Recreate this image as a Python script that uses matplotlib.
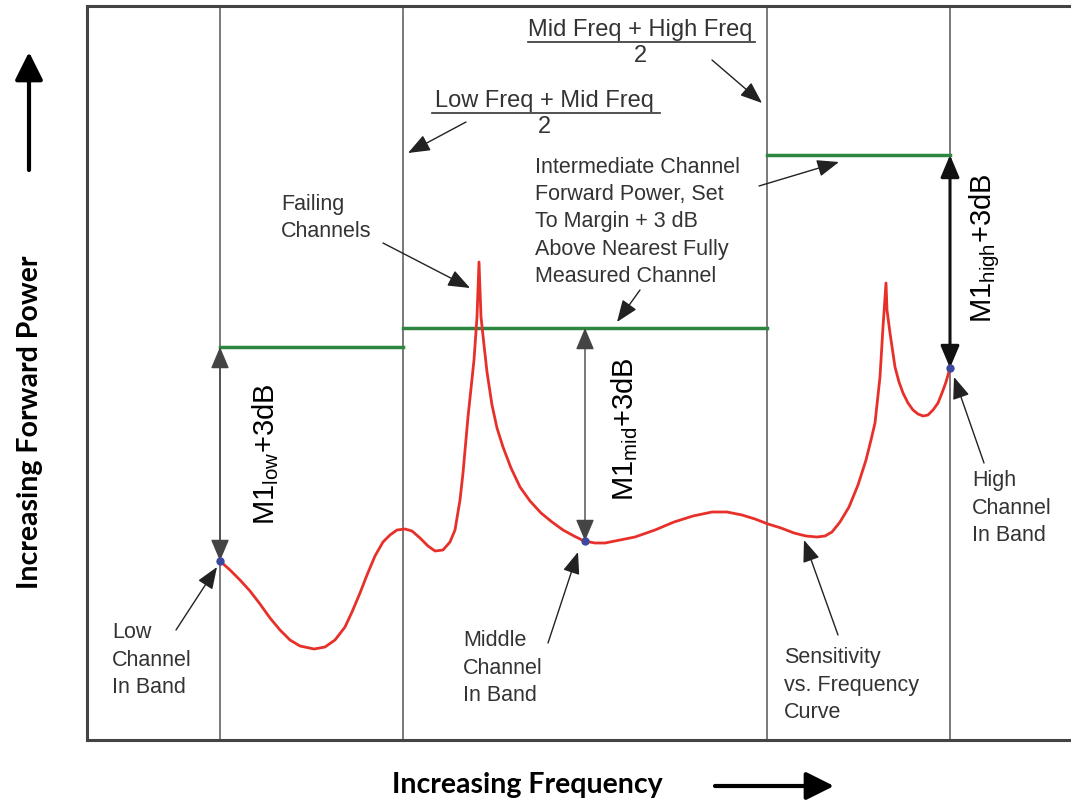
import matplotlib
matplotlib.use('Agg')
import matplotlib.pyplot as plt
from matplotlib.patches import FancyArrowPatch

plt.rcParams['font.family'] = ['Liberation Sans', 'DejaVu Sans']
plt.rcParams['mathtext.fontset'] = 'custom'
plt.rcParams['mathtext.rm'] = 'Liberation Sans'

# sensitivity vs frequency curve (arbitrary units)
freq = [133, 143, 153, 163, 173, 183, 193, 203, 213, 227,
        238, 248, 258, 265, 273, 280, 288, 296, 303, 310,
        318, 325, 333, 341, 348, 356, 363, 368, 373, 376,
        381, 387, 390, 392, 394, 397, 400, 405, 410, 416,
        424, 433, 443, 454, 465, 476, 487, 497, 508, 518,
        533, 548, 568, 587, 606, 625, 640, 655, 668, 681,
        694, 707, 719, 730, 738, 745, 753, 762, 771, 779,
        784, 788, 793, 796, 799, 800, 803, 808, 812, 816,
        821, 826, 831, 836, 841, 846, 851, 855, 859, 863]
power = [179, 170, 160, 149, 136, 122, 110, 100, 94, 91,
         93, 100, 113, 128, 147, 165, 184, 198, 205, 210,
         211, 209, 202, 194, 189, 190, 198, 210, 240, 267,
         323, 380, 423, 478, 423, 395, 368, 335, 312, 293,
         272, 253, 239, 227, 218, 210, 204, 199, 197, 197,
         200, 203, 210, 218, 224, 228, 228, 225, 221, 216,
         212, 207, 204, 203, 204, 208, 218, 233, 255, 280,
         300, 317, 363, 413, 457, 430, 407, 373, 358, 347,
         337, 330, 326, 324, 325, 330, 337, 347, 358, 372]

# measured channels (low, mid, high)
chan_freq = [133, 498, 863]
chan_power = [179, 199, 372]
chan_names = ['low', 'mid', 'high']

# band boundaries and the forward power level set in each band
band_edges = [133, 316, 680, 863]
band_level = [393, 412, 585]

fig = plt.figure(figsize=(10.71, 8.01), dpi=100)
ax = fig.add_axes([87 / 1071, 61 / 801, 984 / 1071, 734 / 801])
ax.set_xlim(0, 984)
ax.set_ylim(0, 734)
ax.set_xticks([])
ax.set_yticks([])
for s in ['left', 'top', 'bottom']:
    ax.spines[s].set_linewidth(2.2)
    ax.spines[s].set_color('#444444')
ax.spines['right'].set_visible(False)

for e in band_edges:
    ax.axvline(e, color='#555555', lw=1.1, zorder=1)

for i in range(3):
    ax.plot([band_edges[i], band_edges[i + 1]], [band_level[i]] * 2,
            color='#2e8540', lw=2.5, zorder=2)

ax.plot(freq, power, color='#e8302a', lw=2, zorder=3)

# margin arrows (channel point -> band level)
for i in range(3):
    thick = i == 2
    ax.annotate('', xy=(chan_freq[i], band_level[i]), xytext=(chan_freq[i], chan_power[i]),
                arrowprops=dict(arrowstyle='<|-|>,head_length=0.9,head_width=0.38',
                                mutation_scale=15, color='#111111' if thick else '#444444',
                                lw=2.2 if thick else 1.0, shrinkA=0, shrinkB=0),
                zorder=4)

ax.plot(chan_freq, chan_power, 'o', color='#3b4a9e', ms=5, zorder=5)

lbl_pos = [(179, 286), (538, 311), (898, 492)]
for (x, y), n in zip(lbl_pos, chan_names):
    ax.text(x, y, r'M1$_{\mathregular{' + n + r'}}$+3dB', rotation=90,
            ha='center', va='center', fontsize=21, color='black')

tc = '#333333'
fs = 15.5
notes = [
    ('Failing\nChannels', 194, 522, (296, 497), (383, 452)),
    ('Intermediate Channel\nForward Power, Set\nTo Margin + 3 dB\nAbove Nearest Fully\nMeasured Channel',
     448, 518, (553, 450), (530, 418)),
    ('Low\nChannel\nIn Band', 25, 80, (89, 110), (130, 173)),
    ('Middle\nChannel\nIn Band', 376, 72, (461, 97), (491, 188)),
    ('Sensitivity\nvs. Frequency\nCurve', 697, 55, (751, 105), (717, 200)),
    ('High\nChannel\nIn Band', 885, 232, (897, 277), (867, 363)),
]
arrow_kw = dict(arrowstyle='-|>,head_length=0.9,head_width=0.35', mutation_scale=15,
                color='#222222', lw=1.0, shrinkA=0, shrinkB=0)
for txt, x, y, a0, a1 in notes:
    ax.text(x, y, txt, ha='left', va='center', fontsize=fs, color=tc, linespacing=1.4)
    ax.annotate('', xy=a1, xytext=a0, arrowprops=arrow_kw)

# the extra arrow from the intermediate note to the high band level
ax.annotate('', xy=(752, 578), xytext=(672, 554), arrowprops=arrow_kw)

# fraction labels for band edges
fracs = [('Mid Freq + High Freq', 553, 710, (441, 668), (625, 680), (675, 637)),
         ('Low Freq + Mid Freq', 457, 639, (345, 573), (379, 618), (321, 587))]
for num, xc, ytop, (x0, x1), a0, a1 in fracs:
    ax.text(xc, ytop, num, ha='center', va='center', fontsize=17, color=tc)
    ax.plot([x0, x1], [ytop - 12, ytop - 12], color=tc, lw=1.2, clip_on=False)
    ax.text(xc, ytop - 26, '2', ha='center', va='center', fontsize=17, color=tc)
    ax.annotate('', xy=a1, xytext=a0, arrowprops=arrow_kw)

# axis titles with arrows
fig.text(30 / 1071, 379 / 801, 'Increasing Forward Power', rotation=90, ha='center',
         va='center', fontsize=20.5, fontweight='bold', family=['Lato', 'DejaVu Sans'])
fig.text(527 / 1071, 16 / 801, 'Increasing Frequency', ha='center', va='center',
         fontsize=20.5, fontweight='bold', family=['Lato', 'DejaVu Sans'])
big_arrow = dict(arrowstyle='-|>,head_length=1.0,head_width=0.5', mutation_scale=17,
                 color='black', lw=3, shrinkA=0, shrinkB=0)
fig.add_artist(FancyArrowPatch((29, 631), (29, 749), transform=None, **big_arrow))
fig.add_artist(FancyArrowPatch((715, 15), (834, 15), transform=None, **big_arrow))

fig.savefig('out.png', dpi=100)
